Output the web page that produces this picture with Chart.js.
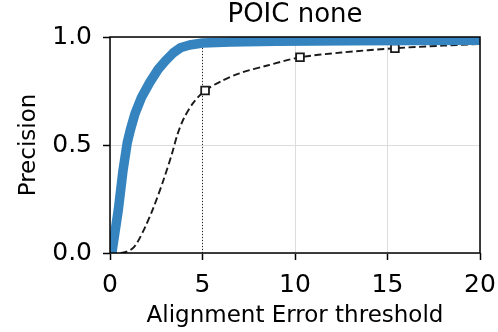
<!DOCTYPE html>
<html>
<head>
<meta charset="utf-8">
<script src="https://cdn.jsdelivr.net/npm/chart.js@4.4.1/dist/chart.umd.min.js"></script>
<style>
  html, body { margin: 0; padding: 0; background: #fff; }
  #wrap { width: 498px; height: 332px; }
</style>
</head>
<body>
<div id="wrap"><canvas id="chart" width="498" height="332"></canvas></div>
<script>
// blue curve (thick)
const blueX = [0.1, 0.45, 0.7, 0.93, 1.1, 1.35, 1.7, 2.15, 2.6, 3.0, 3.4, 3.8, 4.3, 5.0, 6.5, 9, 13, 20];
const blueY = [0.0, 0.2, 0.38, 0.51, 0.57, 0.645, 0.72, 0.79, 0.85, 0.89, 0.925, 0.95, 0.963, 0.972, 0.977, 0.98, 0.983, 0.985];

// black dashed curve
const blackX = [0, 0.6, 0.9, 1.2, 1.45, 1.9, 2.35, 2.9, 3.35, 3.65, 4.0, 4.5, 5.14, 6, 7, 8.5, 10.27, 12.5, 15.4, 18, 20];
const blackY = [0, 0, 0.006, 0.02, 0.045, 0.12, 0.21, 0.34, 0.46, 0.55, 0.625, 0.695, 0.752, 0.795, 0.832, 0.868, 0.906, 0.928, 0.948, 0.96, 0.968];

// square markers on the dashed curve
const markX = [5.14, 10.27, 15.4];
const markY = [0.752, 0.906, 0.948];

// vertical dotted line
const vlineX = 5;

const xTicks = [0, 5, 10, 15, 20];
const yTicks = [0, 0.5, 1.0];

const titleText = "POIC none";

const zip = (xs, ys) => xs.map((x, i) => ({ x: x, y: ys[i] }));

const font = "'DejaVu Sans', sans-serif";

// box around plot area (matplotlib spines) + title centred on the axes
const frame = {
    id: "frame",
    afterDatasetsDraw(chart) {
        const a = chart.chartArea;
        const ctx = chart.ctx;
        ctx.save();
        ctx.strokeStyle = "#000";
        ctx.lineWidth = 1.5;
        ctx.strokeRect(a.left, a.top, a.right - a.left, a.bottom - a.top);
        ctx.fillStyle = "#000";
        ctx.font = "26px " + font;
        ctx.textAlign = "center";
        ctx.textBaseline = "middle";
        ctx.fillText(titleText, (a.left + a.right) / 2, 15);
        ctx.restore();
    }
};

new Chart(document.getElementById("chart"), {
    type: "line",
    data: {
        datasets: [
            {
                data: [{ x: vlineX, y: 0 }, { x: vlineX, y: 1 }],
                borderColor: "#000",
                borderWidth: 0.8,
                borderDash: [1, 2],
                pointRadius: 0,
                order: 4
            },
            {
                data: zip(blackX, blackY),
                borderColor: "#1a1a1a",
                borderWidth: 1.9,
                borderDash: [7, 3.5],
                pointRadius: 0,
                tension: 0.3,
                order: 3
            },
            {
                data: zip(markX, markY),
                showLine: false,
                pointStyle: "rect",
                pointRadius: 5.5,
                pointBackgroundColor: "#fff",
                pointBorderColor: "#1a1a1a",
                pointBorderWidth: 1.8,
                order: 2
            },
            {
                data: zip(blueX, blueY),
                borderColor: "#3584bf",
                borderWidth: 9.5,
                pointRadius: 0,
                tension: 0,
                borderJoinStyle: "round",
                order: 1
            }
        ]
    },
    options: {
        responsive: false,
        animation: false,
        layout: { padding: { left: 0, right: 18, top: 37, bottom: 0 } },
        plugins: {
            legend: { display: false },
            tooltip: { enabled: false },
            title: { display: false }
        },
        scales: {
            x: {
                type: "linear",
                min: 0,
                max: 20,
                afterBuildTicks(scale) { scale.ticks = xTicks.map(v => ({ value: v })); },
                afterFit(scale) {
                    scale.height = 79;
                    scale.paddingLeft = 0;
                    scale.paddingRight = 0;
                },
                ticks: {
                    color: "#000",
                    font: { family: font, size: 25 },
                    padding: 10,
                    maxRotation: 0,
                    callback: v => String(v)
                },
                grid: { color: "#dddddd", lineWidth: 1, tickColor: "#000", tickLength: 7, tickWidth: 1.5 },
                border: { display: false },
                title: {
                    display: true,
                    text: "Alignment Error threshold",
                    color: "#000",
                    font: { family: font, size: 23 },
                    padding: { top: 0, bottom: 2 }
                }
            },
            y: {
                min: 0,
                max: 1,
                afterBuildTicks(scale) { scale.ticks = yTicks.map(v => ({ value: v })); },
                afterFit(scale) { scale.width = 110; },
                ticks: {
                    color: "#000",
                    font: { family: font, size: 25 },
                    padding: 11,
                    callback: v => v.toFixed(1)
                },
                grid: { color: "#dddddd", lineWidth: 1, tickColor: "#000", tickLength: 7, tickWidth: 1.5 },
                border: { display: false },
                title: {
                    display: true,
                    text: "Precision",
                    color: "#000",
                    font: { family: font, size: 23 },
                    padding: { top: 15, bottom: 4 }
                }
            }
        }
    },
    plugins: [frame]
});
</script>
</body>
</html>
